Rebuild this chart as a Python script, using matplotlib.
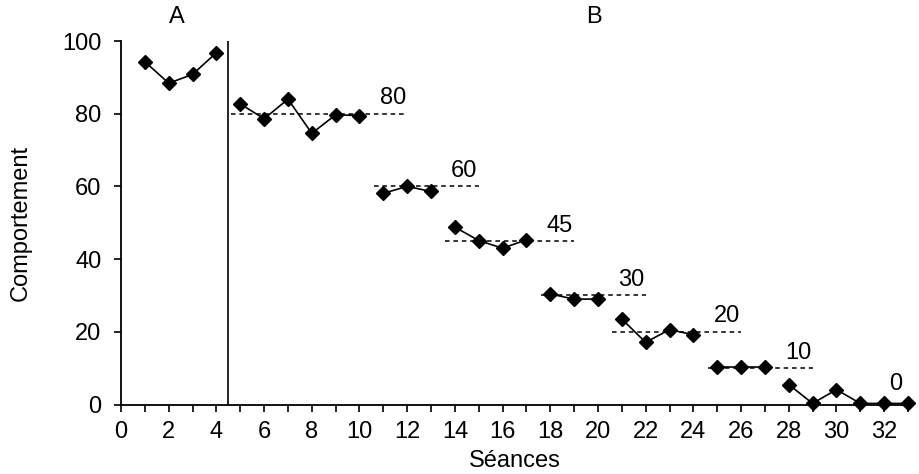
import matplotlib.pyplot as plt

plt.rcParams["font.family"] = ["Liberation Sans", "DejaVu Sans"]

# Sessions and observed behaviour, one list per (sub-)phase
phase_a_x = [1, 2, 3, 4]
phase_a_y = [94.3, 88.4, 90.8, 96.8]

phase_b_x = [
    [5, 6, 7, 8, 9, 10],
    [11, 12, 13],
    [14, 15, 16, 17],
    [18, 19, 20],
    [21, 22, 23, 24],
    [25, 26, 27],
    [28, 29, 30, 31, 32, 33],
]
phase_b_y = [
    [82.7, 78.6, 84.0, 74.6, 79.7, 79.5],
    [58.1, 60.0, 58.6],
    [48.8, 45.1, 43.0, 45.3],
    [30.4, 29.0, 29.0],
    [23.5, 17.1, 20.6, 19.2],
    [10.3, 10.3, 10.3],
    [5.5, 0.3, 4.1, 0.3, 0.3, 0.3],
]
criteria = [80, 60, 45, 30, 20, 10, 0]
phase_labels = ["A", "B"]

fig = plt.figure(figsize=(9.19, 4.74), dpi=100)
ax = fig.add_axes([0.1317, 0.1466, 0.8563, 0.7669])

style = dict(color="black", marker="D", markersize=7, linewidth=1.2, clip_on=False)
ax.plot(phase_a_x, phase_a_y, **style)

for xs, ys, crit in zip(phase_b_x, phase_b_y, criteria):
    ax.plot(xs, ys, **style)
    if crit > 0:
        x0 = xs[0] - 0.4
        x1 = xs[-1] + 2.0
        ax.plot([x0, x1], [crit, crit], color="black", linestyle=(0, (3, 2.5)), linewidth=1.1)
        ax.text(x1 - 0.6, crit + 1.2, str(crit), ha="center", va="bottom", fontsize=17)
    else:
        ax.text(32.5, crit + 2.5, str(crit), ha="center", va="bottom", fontsize=17)

# phase change line
ax.axvline(4.5, ymin=0, ymax=1, color="black", linewidth=1.2)

ax.text(2.35, 103.5, phase_labels[0], ha="center", va="bottom", fontsize=17)
ax.text(19.85, 103.5, phase_labels[1], ha="center", va="bottom", fontsize=17)

ax.set_xlim(0, 33)
ax.set_ylim(0, 100)
ax.set_xticks(range(0, 34))
ax.set_xticklabels([str(i) if i % 2 == 0 else "" for i in range(0, 34)])
ax.set_yticks([0, 20, 40, 60, 80, 100])
ax.tick_params(axis="both", direction="out", length=5, width=1.2, labelsize=17, colors="black")
ax.tick_params(axis="x", pad=7)
ax.tick_params(axis="y", pad=9)

for side in ["top", "right"]:
    ax.spines[side].set_visible(False)
for side in ["left", "bottom"]:
    ax.spines[side].set_linewidth(1.3)

ax.set_xlabel("Séances", fontsize=17, labelpad=5)
ax.set_ylabel("Comportement", fontsize=17, labelpad=22)

fig.savefig("out.png", dpi=100)
